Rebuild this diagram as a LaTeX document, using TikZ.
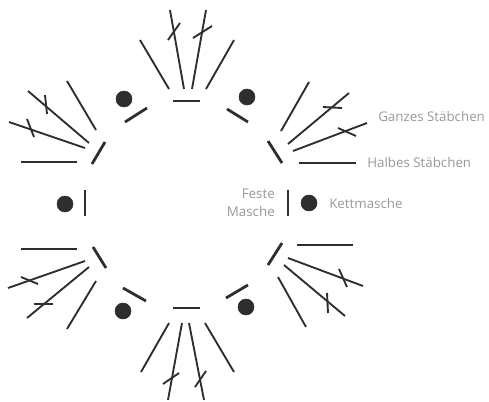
\documentclass[tikz,border=0pt]{standalone}
\usepackage{fontspec}
\setmainfont{Open Sans}
\usepackage{tikz}
\usetikzlibrary{positioning}
\definecolor{stitchcolor}{gray}{0.18}
\definecolor{labelcolor}{gray}{0.6}
\tikzset{
  bar/.style={line width=2.1pt, stitchcolor},
  stem/.style={line width=1.4pt, stitchcolor},
  label/.style={text=labelcolor, font=\fontsize{10}{13.5}\selectfont, inner sep=0pt},
}

\begin{document}
\begin{tikzpicture}[x=0.75pt, y=-0.75pt]
      \useasboundingbox (0,0) rectangle (489,401);

      % Top group
      \draw[bar] (173,101) -- (200,101);
      \draw[stem] (140,40) -- (169,89);
      \draw[stem] (170,10) -- (184,89);
      \draw[stem] (168,40) -- (180,23);
      \draw[stem] (206,10) -- (192,89);
      \draw[stem] (193,38) -- (212,26);
      \draw[stem] (234,40) -- (206,89);

      % Top left dot and bar
      \filldraw[stitchcolor] (124,99) circle (8);
      \draw[bar] (125,122) -- (147,108);

      % Top right dot and bar
      \filldraw[stitchcolor] (247,97) circle (8);
      \draw[bar] (227,109) -- (248,122);

      % Upper left group
      \draw[bar] (92,164) -- (105,142);
      \draw[stem] (96,130) -- (67,81);
      \draw[stem] (89,143) -- (28,91);
      \draw[stem] (45,95) -- (47,114);
      \draw[stem] (85,148) -- (9,122);
      \draw[stem] (27,119) -- (34,137);
      \draw[stem] (77,162) -- (21,162);

      % Left dot and bar
      \filldraw[stitchcolor] (65,204) circle (8);
      \draw[bar] (85,190) -- (85,216);

      % Lower left group
      \draw[bar] (93,247) -- (106,268);
      \draw[stem] (77,249) -- (21,249);
      \draw[stem] (85,261) -- (8,288);
      \draw[stem] (21,277) -- (38,284);
      \draw[stem] (89,267) -- (27,318);
      \draw[stem] (34,304) -- (53,304);
      \draw[stem] (96,281) -- (67,329);

      % Bottom left dot and bar
      \filldraw[stitchcolor] (123,311) circle (8);
      \draw[bar] (123,288) -- (146,301);

      % Bottom group
      \draw[bar] (173,308) -- (200,308);
      \draw[stem] (169,323) -- (141,372);
      \draw[stem] (182,323) -- (168,400);
      \draw[stem] (163,384) -- (179,373);
      \draw[stem] (189,323) -- (204,400);
      \draw[stem] (195,387) -- (206,371);
      \draw[stem] (205,323) -- (234,372);

      % Bottom right dot and bar
      \filldraw[stitchcolor] (246,307) circle (8);
      \draw[bar] (226,298) -- (248,285);

      % Lower right group
      \draw[bar] (268,265) -- (282,243);
      \draw[stem] (297,245) -- (353,245);
      \draw[stem] (288,258) -- (363,286);
      \draw[stem] (339,269) -- (347,287);
      \draw[stem] (284,265) -- (345,316);
      \draw[stem] (327,293) -- (328,313);
      \draw[stem] (278,277) -- (306,327);

      % Right dot and bar
      \filldraw[stitchcolor] (309,203) circle (8);
      \draw[bar] (288,190) -- (288,216);

      % Upper right group
      \draw[bar] (268,141) -- (282,163);
      \draw[stem] (281,131) -- (309,82);
      \draw[stem] (288,144) -- (349,93);
      \draw[stem] (323,107) -- (342,108);
      \draw[stem] (293,151) -- (367,123);
      \draw[stem] (338,128) -- (356,136);
      \draw[stem] (299,163) -- (356,163);

      % Labels
      \node[label, anchor=west] (ganzes) at (378,116) {Ganzes Stäbchen};
      \node[label, anchor=west] (halbes) at (367,162) {Halbes Stäbchen};
      \node[label, anchor=west] (kett) at (329,203) {Kettmasche};
      \node[label, anchor=east, align=right] (feste) at (275,203) {Feste\\Masche};
    \end{tikzpicture}
\end{document}
